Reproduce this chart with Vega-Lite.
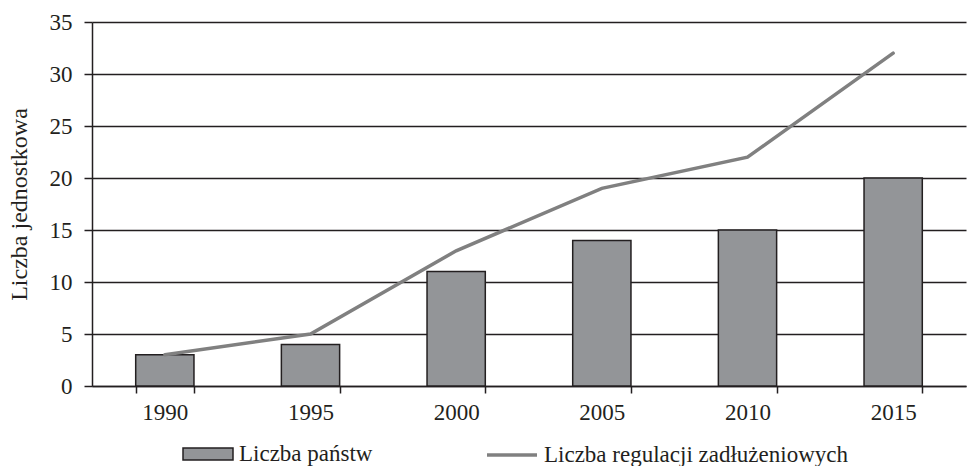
{
  "$schema": "https://vega.github.io/schema/vega-lite/v6.json",
  "width": 874,
  "height": 364,
  "autosize": {"type": "none"},
  "padding": {"left": 92, "top": 22, "right": 2, "bottom": 80},
  "background": "white",
  "config": {
    "font": "Liberation Serif",
    "view": {"stroke": null},
    "axis": {
      "domainColor": "#231f20",
      "domainWidth": 1.5,
      "tickColor": "#231f20",
      "tickWidth": 1.5,
      "tickSize": 8,
      "labelColor": "#231f20",
      "labelFontSize": 23,
      "labelFont": "Liberation Serif",
      "titleFont": "Liberation Serif",
      "titleFontWeight": "normal",
      "titleColor": "#231f20"
    },
    "legend": {
      "labelFont": "Liberation Serif",
      "labelFontSize": 23,
      "labelColor": "#231f20",
      "labelLimit": 0,
      "padding": 0
    }
  },
  "data": {
    "values": [
      {"rok": "1990", "panstwa": 3, "regulacje": 3},
      {"rok": "1995", "panstwa": 4, "regulacje": 5},
      {"rok": "2000", "panstwa": 11, "regulacje": 13},
      {"rok": "2005", "panstwa": 14, "regulacje": 19},
      {"rok": "2010", "panstwa": 15, "regulacje": 22},
      {"rok": "2015", "panstwa": 20, "regulacje": 32}
    ]
  },
  "encoding": {
    "x": {
      "field": "rok",
      "type": "ordinal",
      "scale": {"paddingInner": 0.6, "paddingOuter": 0.3},
      "axis": {
        "title": null,
        "labelAngle": 0,
        "tickBand": "extent",
        "tickSize": 7,
        "labelPadding": 8
      }
    }
  },
  "layer": [
    {
      "mark": {"type": "bar", "stroke": "#231f20", "strokeWidth": 1.5},
      "encoding": {
        "y": {
          "field": "panstwa",
          "type": "quantitative",
          "scale": {"domain": [0, 35], "nice": false},
          "axis": {
            "title": "Liczba jednostkowa",
            "titleFontSize": 24,
            "titlePadding": 18,
            "values": [0, 5, 10, 15, 20, 25, 30, 35],
            "grid": true,
            "gridColor": "#231f20",
            "gridWidth": 1.5,
            "gridOpacity": 1,
            "labelPadding": 12
          }
        },
        "fill": {
          "datum": "Liczba państw",
          "scale": {"range": ["#939598"]},
          "legend": {
            "title": null,
            "orient": "none",
            "legendX": 90,
            "legendY": 406,
            "symbolType": "M-1,-0.24H1V0.24H-1Z",
            "symbolSize": 2500,
            "symbolStrokeColor": "#231f20",
            "symbolStrokeWidth": 1.5,
            "symbolOpacity": 1,
            "labelOffset": 5
          }
        }
      }
    },
    {
      "mark": {"type": "line", "strokeWidth": 3.5, "strokeCap": "round"},
      "encoding": {
        "y": {"field": "regulacje", "type": "quantitative"},
        "stroke": {
          "datum": "Liczba regulacji zadłużeniowych",
          "scale": {"range": ["#808080"]},
          "legend": {
            "title": null,
            "orient": "none",
            "legendX": 393,
            "legendY": 406,
            "symbolType": "stroke",
            "symbolSize": 2500,
            "symbolStrokeWidth": 3.5,
            "labelOffset": 5
          }
        }
      }
    }
  ]
}
